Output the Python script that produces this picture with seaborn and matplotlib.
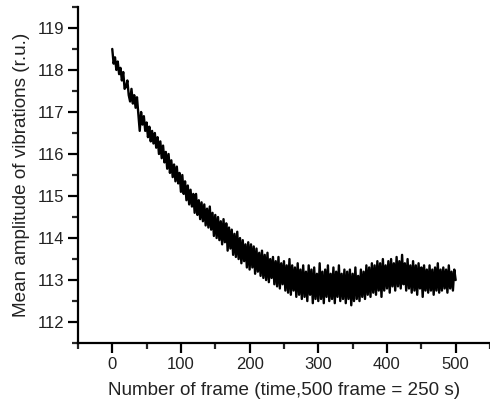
import numpy as np
import pandas as pd
import seaborn as sns
import matplotlib.pyplot as plt
from matplotlib.ticker import MultipleLocator

# frame number (every 2nd frame) and mean amplitude
frames = np.arange(0, 501, 2)
amplitude = [
    118.5, 118.15, 118.3, 118.0, 118.2, 117.9, 118.05, 117.75, 117.95, 117.55,
    117.6, 117.75, 117.4, 117.25, 117.55, 117.2, 117.4, 117.1, 117.35, 116.95,
    116.55, 117.0, 116.7, 116.9, 116.55, 116.75, 116.4, 116.65, 116.3, 116.55,
    116.25, 116.5, 116.15, 116.4, 116.0, 116.3, 115.9, 116.2, 115.8, 116.05,
    115.65, 116.0, 115.55, 115.85, 115.45, 115.75, 115.35, 115.7, 115.3, 115.55,
    115.1, 115.5, 115.05, 115.35, 114.9, 115.25, 114.8, 115.15, 114.75, 115.05,
    114.6, 115.05, 114.55, 114.9, 114.45, 114.85, 114.4, 114.8, 114.3, 114.7,
    114.25, 114.75, 114.2, 114.6, 114.05, 114.55, 114.0, 114.5, 113.95, 114.4,
    113.85, 114.45, 113.9, 114.35, 113.7, 114.25, 113.75, 114.2, 113.6, 114.1,
    113.55, 114.15, 113.5, 114.0, 113.4, 113.95, 113.45, 113.85, 113.3, 113.9,
    113.25, 113.85, 113.3, 113.8, 113.15, 113.75, 113.2, 113.65, 113.1, 113.7,
    113.05, 113.6, 113.0, 113.65, 112.95, 113.5, 113.05, 113.55, 112.9, 113.45,
    112.85, 113.55, 112.8, 113.4, 112.9, 113.45, 112.75, 113.35, 112.7, 113.5,
    112.65, 113.35, 112.75, 113.3, 112.6, 113.4, 112.65, 113.25, 112.55, 113.35,
    112.6, 113.2, 112.5, 113.35, 112.65, 113.25, 112.45, 113.3, 112.55, 113.15,
    112.5, 113.4, 112.55, 113.2, 112.45, 113.25, 112.6, 113.35, 112.5, 113.15,
    112.55, 113.3, 112.45, 113.2, 112.6, 113.35, 112.5, 113.15, 112.55, 113.25,
    112.45, 113.2, 112.55, 113.25, 112.4, 113.15, 112.5, 113.3, 112.55, 113.1,
    112.5, 113.25, 112.6, 113.2, 112.55, 113.35, 112.65, 113.3, 112.6, 113.4,
    112.7, 113.35, 112.65, 113.45, 112.75, 113.4, 112.6, 113.5, 112.75, 113.35,
    112.8, 113.45, 112.7, 113.5, 112.85, 113.4, 112.75, 113.55, 112.85, 113.45,
    112.8, 113.6, 112.9, 113.4, 112.75, 113.5, 112.8, 113.35, 112.7, 113.45,
    112.75, 113.35, 112.65, 113.4, 112.8, 113.3, 112.6, 113.35, 112.75, 113.25,
    112.7, 113.35, 112.75, 113.25, 112.65, 113.3, 112.75, 113.4, 112.7, 113.25,
    112.75, 113.3, 112.8, 113.25, 112.7, 113.35, 112.8, 113.2, 112.75, 113.25,
    113.0,
]

df = pd.DataFrame({"frame": frames, "amp": amplitude})

sns.set_style("ticks")
plt.rcParams["font.family"] = ["Liberation Sans", "DejaVu Sans"]

fig = plt.figure(figsize=(4.9, 4.07), dpi=100)
ax = fig.add_axes([0.159, 0.157, 0.841, 0.826])

sns.lineplot(data=df, x="frame", y="amp", color="black", linewidth=1.7, ax=ax)

ax.set_xlim(-50, 550)
ax.set_ylim(111.5, 119.5)
ax.xaxis.set_major_locator(MultipleLocator(100))
ax.xaxis.set_minor_locator(MultipleLocator(50))
ax.yaxis.set_major_locator(MultipleLocator(1))
ax.yaxis.set_minor_locator(MultipleLocator(0.5))
ax.tick_params(which="major", direction="out", length=7, width=1.6, pad=3,
               labelsize=12, colors="black", labelcolor="#222222")
ax.tick_params(which="minor", direction="out", length=4, width=1.6)

for side in ["top", "right"]:
    ax.spines[side].set_visible(False)
for side in ["left", "bottom"]:
    ax.spines[side].set_linewidth(1.6)
    ax.spines[side].set_color("black")

ax.set_xlabel("Number of frame (time,500 frame = 250 s)", fontsize=13.6, color="#222222", labelpad=7)
ax.set_ylabel("Mean amplitude of vibrations (r.u.)", fontsize=13.6, color="#222222", labelpad=5)

fig.savefig("out.png", dpi=100)
